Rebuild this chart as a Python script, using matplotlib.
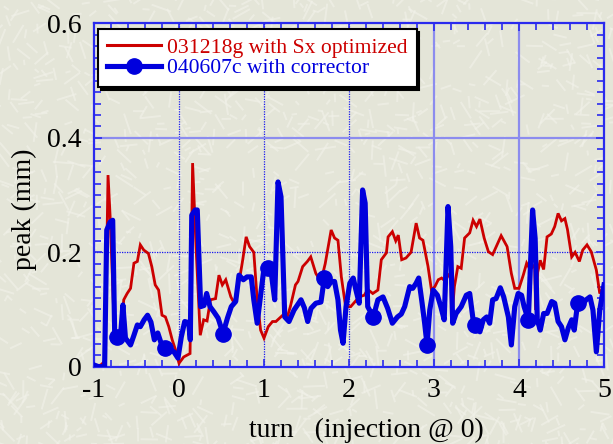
import numpy as np
import matplotlib
matplotlib.use("Agg")
import matplotlib.pyplot as plt
from matplotlib.ticker import MultipleLocator
from matplotlib.lines import Line2D
from matplotlib.collections import LineCollection

plt.rcParams['font.family'] = ['Liberation Serif', 'DejaVu Serif']
plt.rcParams['axes.unicode_minus'] = False

# ---- data: beam peak (mm) versus turn, injection at turn 0 ----
red_label = "031218g with Sx optimized"
blue_label = "040607c with corrector"

red_turn = [-1.00, -0.92, -0.87, -0.835, -0.81, -0.79, -0.76, -0.72, -0.68, -0.65,
            -0.61, -0.57, -0.53, -0.49, -0.455, -0.415, -0.36, -0.32, -0.28, -0.24,
            -0.20, -0.16, -0.12, -0.08, -0.04, 0.00, 0.055, 0.13, 0.16, 0.20,
            0.25, 0.29, 0.33, 0.37, 0.43, 0.47, 0.51, 0.55, 0.61, 0.65,
            0.69, 0.72, 0.75, 0.79, 0.83, 0.88, 0.92, 0.96, 1.00, 1.05,
            1.10, 1.14, 1.22, 1.27, 1.31, 1.37, 1.40, 1.455, 1.51, 1.55,
            1.61, 1.67, 1.72, 1.79, 1.83, 1.87, 1.91, 1.96, 2.02, 2.12,
            2.18, 2.22, 2.28, 2.34, 2.38, 2.44, 2.46, 2.51, 2.55, 2.58,
            2.62, 2.67, 2.73, 2.79, 2.83, 2.87, 2.93, 2.97, 3.01, 3.05,
            3.09, 3.13, 3.17, 3.20, 3.205, 3.24, 3.28, 3.32, 3.36, 3.42,
            3.46, 3.50, 3.54, 3.59, 3.64, 3.69, 3.75, 3.79, 3.86, 3.91,
            3.95, 4.00, 4.05, 4.09, 4.13, 4.185, 4.195, 4.22, 4.25, 4.29,
            4.33, 4.38, 4.42, 4.46, 4.50, 4.54, 4.57, 4.62, 4.66, 4.71,
            4.75, 4.80, 4.85, 4.91, 4.95, 4.98]
red_peak = [0.000, 0.003, 0.010, 0.335, 0.262, 0.180, 0.060, 0.055, 0.070, 0.117,
            0.128, 0.137, 0.181, 0.184, 0.213, 0.204, 0.198, 0.175, 0.143, 0.134,
            0.090, 0.087, 0.070, 0.047, 0.029, 0.006, 0.017, 0.023, 0.356, 0.210,
            0.055, 0.082, 0.080, 0.117, 0.119, 0.160, 0.143, 0.152, 0.122, 0.111,
            0.140, 0.160, 0.187, 0.227, 0.210, 0.200, 0.117, 0.064, 0.050, 0.070,
            0.079, 0.079, 0.090, 0.085, 0.105, 0.143, 0.149, 0.175, 0.184, 0.192,
            0.163, 0.149, 0.180, 0.239, 0.225, 0.221, 0.157, 0.105, 0.105, 0.122,
            0.125, 0.135, 0.128, 0.134, 0.187, 0.199, 0.227, 0.236, 0.220, 0.230,
            0.187, 0.190, 0.200, 0.251, 0.225, 0.221, 0.175, 0.134, 0.140, 0.152,
            0.155, 0.150, 0.160, 0.165, 0.076, 0.140, 0.175, 0.172, 0.225, 0.234,
            0.256, 0.245, 0.258, 0.225, 0.201, 0.196, 0.216, 0.229, 0.210, 0.163,
            0.137, 0.137, 0.160, 0.181, 0.170, 0.178, 0.099, 0.165, 0.186, 0.170,
            0.227, 0.232, 0.245, 0.268, 0.255, 0.259, 0.240, 0.192, 0.200, 0.184,
            0.204, 0.213, 0.201, 0.169, 0.128, 0.135]

blue_turn = [-1.00, -0.945, -0.875, -0.85, -0.81, -0.78, -0.757, -0.73, -0.69, -0.66,
             -0.63, -0.57, -0.53, -0.49, -0.455, -0.41, -0.37, -0.33, -0.29, -0.25,
             -0.21, -0.16, -0.115, -0.06, -0.012, 0.027, 0.067, 0.114, 0.133, 0.15,
             0.19, 0.215, 0.255, 0.294, 0.325, 0.365, 0.41, 0.46, 0.518, 0.57,
             0.615, 0.667, 0.706, 0.757, 0.80, 0.85, 0.88, 0.92, 0.96, 1.00,
             1.047, 1.086, 1.126, 1.165, 1.20, 1.244, 1.294, 1.353, 1.435, 1.475,
             1.514, 1.553, 1.61, 1.67, 1.71, 1.75, 1.79, 1.83, 1.87, 1.90,
             1.93, 1.965, 2.01, 2.05, 2.08, 2.12, 2.16, 2.19, 2.22, 2.286,
             2.34, 2.40, 2.455, 2.51, 2.57, 2.615, 2.655, 2.714, 2.75, 2.79,
             2.82, 2.86, 2.89, 2.918, 2.95, 2.99, 3.04, 3.08, 3.12, 3.165,
             3.197, 3.22, 3.26, 3.32, 3.38, 3.42, 3.46, 3.486, 3.54, 3.58,
             3.62, 3.655, 3.69, 3.73, 3.78, 3.82, 3.875, 3.91, 3.95, 3.99,
             4.03, 4.06, 4.11, 4.16, 4.19, 4.215, 4.25, 4.29, 4.33, 4.385,
             4.42, 4.46, 4.50, 4.54, 4.58, 4.62, 4.65, 4.69, 4.74, 4.79,
             4.835, 4.87, 4.91, 4.95, 5.00]
blue_peak = [0.003, 0.000, 0.000, 0.239, 0.253, 0.256, 0.061, 0.052, 0.050, 0.108,
             0.050, 0.038, 0.055, 0.073, 0.070, 0.082, 0.090, 0.078, 0.047, 0.059,
             0.041, 0.032, 0.032, 0.026, 0.015, 0.052, 0.079, 0.077, 0.047, 0.265,
             0.274, 0.274, 0.105, 0.107, 0.128, 0.105, 0.096, 0.085, 0.058, 0.085,
             0.105, 0.114, 0.160, 0.152, 0.157, 0.157, 0.117, 0.076, 0.125, 0.172,
             0.172, 0.163, 0.117, 0.323, 0.297, 0.087, 0.079, 0.099, 0.117, 0.103,
             0.079, 0.102, 0.111, 0.113, 0.155, 0.140, 0.149, 0.149, 0.117, 0.064,
             0.041, 0.105, 0.146, 0.155, 0.135, 0.111, 0.309, 0.286, 0.105, 0.087,
             0.117, 0.122, 0.102, 0.076, 0.087, 0.092, 0.105, 0.140, 0.137, 0.146,
             0.155, 0.111, 0.076, 0.038, 0.099, 0.134, 0.125, 0.105, 0.082, 0.280,
             0.210, 0.076, 0.093, 0.105, 0.125, 0.128, 0.082, 0.073, 0.061, 0.082,
             0.087, 0.076, 0.117, 0.119, 0.138, 0.122, 0.087, 0.038, 0.105, 0.128,
             0.125, 0.105, 0.082, 0.274, 0.224, 0.082, 0.064, 0.093, 0.093, 0.114,
             0.111, 0.079, 0.070, 0.047, 0.068, 0.082, 0.064, 0.111, 0.108, 0.117,
             0.122, 0.099, 0.026, 0.099, 0.143]

# turns at which the corrector series carries a symbol
blue_symbol_turns = [-0.73, -0.16, 0.518, 1.047, 1.71, 2.286, 2.918, 3.486, 4.11, 4.69]

x_ticks = [-1, 0, 1, 2, 3, 4, 5]
y_ticks = [0, 0.2, 0.4, 0.6]
y_tick_labels = ["0", "0.2", "0.4", "0.6"]

# ---- styling ----
RED = '#cc0000'
BLUE = '#0000dd'
FRAME = '#2a2aee'
GRID_LIGHT = '#8c8cee'
BG = '#e4e5d8'

W, H = 613, 444
fig = plt.figure(figsize=(W / 100, H / 100), dpi=100)
fig.patch.set_facecolor(BG)

# paper-like textured backdrop of short pale strokes
bg = fig.add_axes([0, 0, 1, 1], zorder=-5)
bg.set_xlim(0, W)
bg.set_ylim(0, H)
bg.axis('off')
rng = np.random.default_rng(3)
n_strokes = 1500
cx = rng.uniform(-10, W + 10, n_strokes)
cy = rng.uniform(-10, H + 10, n_strokes)
ang = rng.uniform(0, np.pi, n_strokes)
ln = rng.uniform(5, 22, n_strokes)
segs = np.stack([np.stack([cx - ln / 2 * np.cos(ang), cy - ln / 2 * np.sin(ang)], 1),
                 np.stack([cx + ln / 2 * np.cos(ang), cy + ln / 2 * np.sin(ang)], 1)], 1)
bg.add_collection(LineCollection(segs, colors='#f2f2ea', linewidths=1.4, alpha=0.6))

left, right, top, bottom = 94, 604, 23.5, 366.7
ax = fig.add_axes([left / W, 1 - bottom / H, (right - left) / W, (bottom - top) / H])
ax.set_facecolor('none')
ax.set_xlim(-1, 5)
ax.set_ylim(0, 0.6)

# grid: thin dotted lines and wider pale lines
for xv in (0, 1, 2):
    ax.axvline(xv, color='#1a1aee', lw=0.9, ls=(0, (1, 1)), zorder=1)
for xv in (3, 4):
    ax.axvline(xv, color=GRID_LIGHT, lw=1.6, zorder=1)
ax.axhline(0.2, color='#1a1aee', lw=0.9, ls=(0, (1, 1)), zorder=1)
ax.axhline(0.4, color=GRID_LIGHT, lw=1.6, zorder=1)

ax.plot(red_turn, red_peak, color=RED, lw=2.0, zorder=3, solid_joinstyle='miter')

bt = np.asarray(blue_turn)
mark_idx = [int(np.argmin(np.abs(bt - t))) for t in blue_symbol_turns]
ax.plot(blue_turn, blue_peak, color=BLUE, lw=3.7, marker='o', markersize=11,
        markevery=mark_idx, zorder=4, solid_joinstyle='round')

ax.set_xticks(x_ticks)
ax.set_yticks(y_ticks)
ax.set_yticklabels(y_tick_labels)
ax.xaxis.set_minor_locator(MultipleLocator(0.2))
ax.yaxis.set_minor_locator(MultipleLocator(0.02))
ax.tick_params(which='both', direction='in', top=True, right=True, color=FRAME,
               width=1.2, labelsize=20, labelcolor='black')
ax.tick_params(which='major', length=6)
ax.tick_params(which='minor', length=5)
ax.tick_params(axis='x', pad=8)
ax.tick_params(axis='y', pad=9)
for s in ax.spines.values():
    s.set_color(FRAME)
    s.set_linewidth(1.6)

fig.text(366 / W, 1 - 430 / H, "turn   (injection @ 0)", ha='center', va='center', fontsize=20)
fig.text(24 / W, 1 - 209 / H, "peak (mm)", ha='center', va='center', rotation=90, fontsize=20)

handles = [Line2D([], [], color=RED, lw=2.2),
           Line2D([], [], color=BLUE, lw=3.7, marker='o', markersize=11)]
leg = ax.legend(handles, [red_label, blue_label], loc='upper left',
                bbox_to_anchor=(98 / W, 1 - 29 / H), bbox_transform=fig.transFigure,
                borderaxespad=0, fontsize=15.6, frameon=True, fancybox=False,
                shadow={'color': 'black', 'alpha': 1.0}, handlelength=2.5,
                handletextpad=0.3, labelspacing=0.02, borderpad=0.4)
leg.get_frame().set_edgecolor('black')
leg.get_frame().set_linewidth(1.5)
leg.get_frame().set_facecolor('white')
leg.get_frame().set_alpha(1.0)
leg.set_zorder(10)
for txt, c in zip(leg.get_texts(), [RED, BLUE]):
    txt.set_color(c)

fig.savefig('out.png', dpi=100, facecolor=fig.get_facecolor())
